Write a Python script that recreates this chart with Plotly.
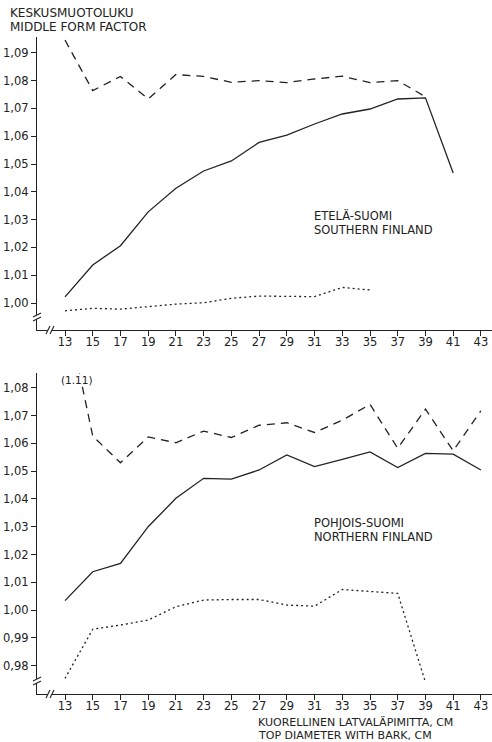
import plotly.graph_objects as go

# Top diameter with bark, cm
diam = [13, 15, 17, 19, 21, 23, 25, 27, 29, 31, 33, 35, 37, 39, 41, 43]

# Southern Finland (Etelä-Suomi)
south_solid = [1.0022, 1.0137, 1.0206, 1.0328, 1.0413, 1.0475, 1.0511, 1.0578,
               1.0604, 1.0644, 1.0680, 1.0698, 1.0734, 1.0738, 1.0468, None]
south_dash = [1.0946, 1.0764, 1.0815, 1.0734, 1.0822, 1.0815, 1.0794, 1.0800,
              1.0793, 1.0806, 1.0816, 1.0793, 1.0800, 1.0742, None, None]
south_dot = [0.9972, 0.9981, 0.9978, 0.9987, 0.9996, 1.0001, 1.0017, 1.0025,
             1.0025, 1.0023, 1.0056, 1.0047, None, None, None, None]

# Northern Finland (Pohjois-Suomi)
north_solid = [1.0034, 1.0138, 1.0168, 1.0300, 1.0402, 1.0474, 1.0471, 1.0504,
               1.0558, 1.0516, 1.0542, 1.0569, 1.0513, 1.0564, 1.0561, 1.0504]
north_dash = [1.11, 1.0626, 1.0530, 1.0623, 1.0602, 1.0644, 1.0621, 1.0665,
              1.0674, 1.0639, 1.0683, 1.0740, 1.0582, 1.0723, 1.0573, 1.0717]
north_dot = [0.9754, 0.9931, 0.9946, 0.9964, 1.0012, 1.0036, 1.0038, 1.0038,
             1.0018, 1.0014, 1.0074, 1.0066, 1.0060, 0.9740, None, None]

x_ticks = list(range(13, 44, 2))
top_yticks = [1.00, 1.01, 1.02, 1.03, 1.04, 1.05, 1.06, 1.07, 1.08, 1.09]
bot_yticks = [0.98, 0.99, 1.00, 1.01, 1.02, 1.03, 1.04, 1.05, 1.06, 1.07, 1.08]

INK = "#222222"
FONT = "DejaVu Sans"
W, H = 492, 742
PLOT_W = W - 37

fig = go.Figure()


def add_series(xa, ya, ys, dash):
    fig.add_trace(go.Scatter(
        x=diam, y=ys, xaxis=xa, yaxis=ya, mode="lines",
        line=dict(color=INK, width=1.3, dash=dash),
        connectgaps=False, showlegend=False, hoverinfo="skip"))


add_series("x", "y", south_solid, "solid")
add_series("x", "y", south_dash, "8px,6px")
add_series("x", "y", south_dot, "2px,3px")
add_series("x2", "y2", north_solid, "solid")
add_series("x2", "y2", north_dash, "8px,6px")
add_series("x2", "y2", north_dot, "2px,3px")

top_dom = [1 - 330 / H, 1 - 37 / H]
bot_dom = [1 - 694 / H, 1 - 373 / H]

xcommon = dict(
    range=[10.98, 43.8], tickvals=x_ticks, ticks="outside", ticklen=5,
    tickwidth=1.2, tickcolor=INK, showline=True, linecolor=INK, linewidth=1.3,
    showgrid=False, zeroline=False, ticklabelstandoff=-4,
    tickfont=dict(family=FONT, size=11.5, color=INK),
)
ycommon = dict(
    ticks="outside", ticklen=5, tickwidth=1.2, tickcolor=INK, showline=True,
    linecolor=INK, linewidth=1.3, showgrid=False, zeroline=False,
    tickformat=".2f", tickfont=dict(family=FONT, size=11.5, color=INK),
)

fig.update_layout(
    width=W, height=H,
    margin=dict(l=37, r=0, t=0, b=0),
    paper_bgcolor="white", plot_bgcolor="white",
    separators=", ",
    xaxis=dict(domain=[0, 1], anchor="y", **xcommon),
    yaxis=dict(domain=top_dom, anchor="x", range=[0.9903, 1.0957],
               tickvals=top_yticks, **ycommon),
    xaxis2=dict(domain=[0, 1], anchor="y2", **xcommon),
    yaxis2=dict(domain=bot_dom, anchor="x2", range=[0.9698, 1.0853],
                tickvals=bot_yticks, **ycommon),
)


def px_x(p):
    return (p - 37) / PLOT_W


def px_y(p):
    return 1 - p / H


def label(text, left_px, center_px, size=12):
    return dict(text=text, xref="paper", yref="paper", x=px_x(left_px),
                y=px_y(center_px), xanchor="left", yanchor="middle",
                showarrow=False, font=dict(family=FONT, size=size, color=INK))


annots = [
    label("KESKUSMUOTOLUKU", 8, 13),
    label("MIDDLE FORM FACTOR", 8, 27),
    label("ETELÄ-SUOMI", 312, 216, 11.5),
    label("SOUTHERN FINLAND", 312, 230, 11.5),
    label("POHJOIS-SUOMI", 312, 523, 11.5),
    label("NORTHERN FINLAND", 312, 537, 11.5),
    label("KUORELLINEN LATVALÄPIMITTA, CM", 256, 722, 11),
    label("TOP DIAMETER WITH BARK, CM", 256, 735.5, 11),
    # off-scale value of the first point, printed at the top of the axis
    dict(text="({:.2f})".format(north_dash[0]), xref="x2", yref="paper",
         x=diam[0] + 0.9, y=px_y(380), xanchor="center", yanchor="middle",
         showarrow=False, bgcolor="white", borderpad=0,
         font=dict(family=FONT, size=10.5, color=INK)),
]
fig.update_layout(annotations=annots)

# axis break marks
shapes = []
for base in (330, 694):
    # white gap plus zigzag on the y axis
    yb = base - 13
    shapes.append(dict(type="rect", xref="paper", yref="paper",
                       x0=px_x(34), x1=px_x(40), y0=px_y(yb + 2), y1=px_y(yb - 2),
                       fillcolor="white", line=dict(width=0)))
    for dy in (-2, 2):
        shapes.append(dict(type="line", xref="paper", yref="paper",
                           x0=px_x(33), y0=px_y(yb + dy + 2),
                           x1=px_x(41), y1=px_y(yb + dy - 2),
                           line=dict(color=INK, width=1.1)))
    # double slash on the x axis
    shapes.append(dict(type="rect", xref="paper", yref="paper",
                       x0=px_x(48), x1=px_x(52), y0=px_y(base + 2), y1=px_y(base - 2),
                       fillcolor="white", line=dict(width=0)))
    for dx in (-2, 2):
        shapes.append(dict(type="line", xref="paper", yref="paper",
                           x0=px_x(48 + dx), y0=px_y(base + 4),
                           x1=px_x(52 + dx), y1=px_y(base - 4),
                           line=dict(color=INK, width=1.1)))
fig.update_layout(shapes=shapes)

fig.write_html("out.html")
